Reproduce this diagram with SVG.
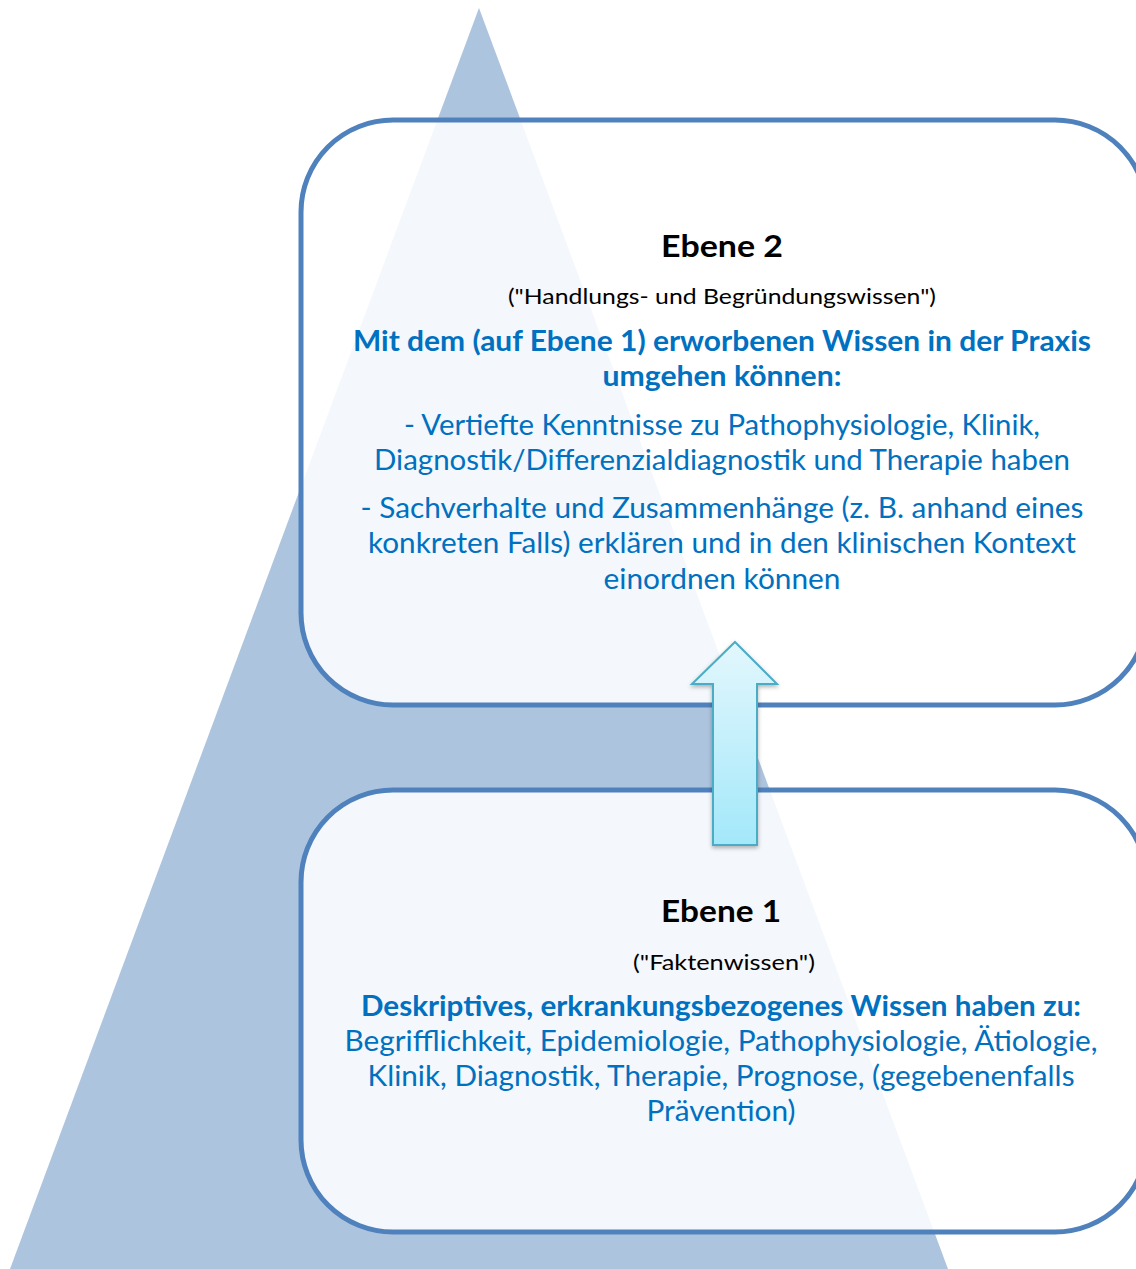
<svg xmlns="http://www.w3.org/2000/svg" width="1136" height="1269" viewBox="0 0 1136 1269">
<style>
.box{fill:#ffffff;fill-opacity:0.86;stroke:#4f81bd;stroke-width:5}
.t{font-family:Lato,"Open Sans",sans-serif;text-anchor:middle}
.h{font-weight:bold;font-size:31px;fill:#000}
.s{font-size:22px;fill:#000}
.b{font-size:28px;fill:#0070c0}
.bb{font-size:28px;font-weight:bold;fill:#0070c0}
</style>
<defs>
<linearGradient id="ag" x1="0" y1="0" x2="0" y2="1">
<stop offset="0" stop-color="#e3f7fd"/>
<stop offset="1" stop-color="#a3e8fa"/>
</linearGradient>
<filter id="sh" x="-20%" y="-10%" width="140%" height="120%">
<feDropShadow dx="0" dy="2" stdDeviation="2" flood-color="#000" flood-opacity="0.3"/>
</filter>
</defs>
<rect width="1136" height="1269" fill="#ffffff"/>
<polygon points="479,8 10,1269 948,1269" fill="#adc4de"/>
<g id="ebene2">
<rect class="box" x="301" y="120" width="846" height="585" rx="92" ry="92"/>
<text class="t h" x="722" y="257" textLength="122" lengthAdjust="spacingAndGlyphs">Ebene 2</text>
<text class="t s" x="722" y="304" textLength="428" lengthAdjust="spacingAndGlyphs">("Handlungs- und Begründungswissen")</text>
<text class="t bb" x="722" y="351" textLength="738" lengthAdjust="spacingAndGlyphs">Mit dem (auf Ebene 1) erworbenen Wissen in der Praxis</text>
<text class="t bb" x="722" y="386" textLength="239" lengthAdjust="spacingAndGlyphs">umgehen können:</text>
<text class="t b" x="722" y="435" textLength="636" lengthAdjust="spacingAndGlyphs">- Vertiefte Kenntnisse zu Pathophysiologie, Klinik,</text>
<text class="t b" x="722" y="470" textLength="696" lengthAdjust="spacingAndGlyphs">Diagnostik/Differenzialdiagnostik und Therapie haben</text>
<text class="t b" x="722" y="518" textLength="723" lengthAdjust="spacingAndGlyphs">- Sachverhalte und Zusammenhänge (z. B. anhand eines</text>
<text class="t b" x="722" y="553" textLength="708" lengthAdjust="spacingAndGlyphs">konkreten Falls) erklären und in den klinischen Kontext</text>
<text class="t b" x="722" y="589" textLength="237" lengthAdjust="spacingAndGlyphs">einordnen können</text>
</g>
<g id="ebene1">
<rect class="box" x="301" y="790" width="846" height="442" rx="92" ry="92"/>
<text class="t h" x="721" y="922" textLength="120" lengthAdjust="spacingAndGlyphs">Ebene 1</text>
<text class="t s" x="724" y="970" textLength="182" lengthAdjust="spacingAndGlyphs">("Faktenwissen")</text>
<text class="t bb" x="721" y="1016" textLength="720" lengthAdjust="spacingAndGlyphs">Deskriptives, erkrankungsbezogenes Wissen haben zu:</text>
<text class="t b" x="721" y="1051" textLength="753" lengthAdjust="spacingAndGlyphs">Begrifflichkeit, Epidemiologie, Pathophysiologie, Ätiologie,</text>
<text class="t b" x="721" y="1086" textLength="707" lengthAdjust="spacingAndGlyphs">Klinik, Diagnostik, Therapie, Prognose, (gegebenenfalls</text>
<text class="t b" x="721" y="1121" textLength="149" lengthAdjust="spacingAndGlyphs">Prävention)</text>
</g>
<g id="connectors">
<polygon points="735,642 777,684 757,684 757,845 713,845 713,684 692,684" fill="url(#ag)" stroke="#4bacc6" stroke-width="2" stroke-linejoin="miter" filter="url(#sh)"/>
</g>
</svg>
